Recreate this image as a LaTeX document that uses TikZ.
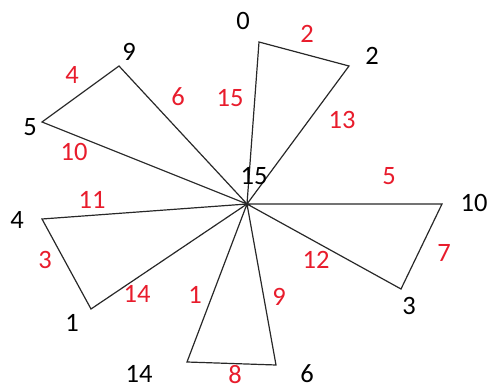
\documentclass[tikz,border=0pt]{standalone}
\usepackage{fontspec}
\setmainfont{Carlito}
\definecolor{lbl}{RGB}{232,28,44}
\definecolor{ln}{RGB}{40,40,40}
\begin{document}
\begin{tikzpicture}[x=1pt,y=-1pt,
  vlab/.style={font=\fontsize{26.5}{26.5}\selectfont, text=black, inner sep=0pt},
  elab/.style={font=\fontsize{26.5}{26.5}\selectfont, text=lbl, inner sep=0pt},
  edge/.style={draw=ln, line width=1.2pt, line join=miter}]
\useasboundingbox (0,0) rectangle (488,390);
% vertices
\coordinate (c) at (247,204);
\coordinate (v0) at (259,42);
\coordinate (v2) at (349,66);
\coordinate (v9) at (119,66);
\coordinate (v5) at (42,122);
\coordinate (v4) at (42,219);
\coordinate (v1) at (91,309);
\coordinate (v14) at (187,362);
\coordinate (v6) at (276,365);
\coordinate (v3) at (401,289);
\coordinate (v10) at (442,204);
% triangles
\draw[edge] (c) -- (v0) -- (v2) -- cycle;
\draw[edge] (c) -- (v9) -- (v5) -- cycle;
\draw[edge] (c) -- (v4) -- (v1) -- cycle;
\draw[edge] (c) -- (v14) -- (v6) -- cycle;
\draw[edge] (c) -- (v10) -- (v3) -- cycle;
% vertex labels
\node[vlab] (n15) at (254,176) {15};
\node[vlab] (n0) at (243,21) {0};
\node[vlab] (n2) at (372,56) {2};
\node[vlab] (n9) at (129,52) {9};
\node[vlab] (n5) at (30,127) {5};
\node[vlab] (n4) at (17,220) {4};
\node[vlab] (n1) at (72,323) {1};
\node[vlab] (n14) at (139,374) {14};
\node[vlab] (n6) at (307,374) {6};
\node[vlab] (n3) at (409,306) {3};
\node[vlab] (n10) at (474,203) {10};
% edge labels
\node[elab] (e2) at (307,34) {2};
\node[elab] (e15) at (230,98) {15};
\node[elab] (e13) at (342,120) {13};
\node[elab] (e4) at (72,75) {4};
\node[elab] (e6) at (178,97) {6};
\node[elab] (e10) at (74,152) {10};
\node[elab] (e11) at (92,200) {11};
\node[elab] (e3) at (45,260) {3};
\node[elab] (e14) at (137,294) {14};
\node[elab] (e1) at (195,295) {1};
\node[elab] (e9) at (279,297) {9};
\node[elab] (e8) at (235,375) {8};
\node[elab] (e12) at (316,260) {12};
\node[elab] (e5) at (389,176) {5};
\node[elab] (e7) at (444,253) {7};
\end{tikzpicture}
\end{document}
